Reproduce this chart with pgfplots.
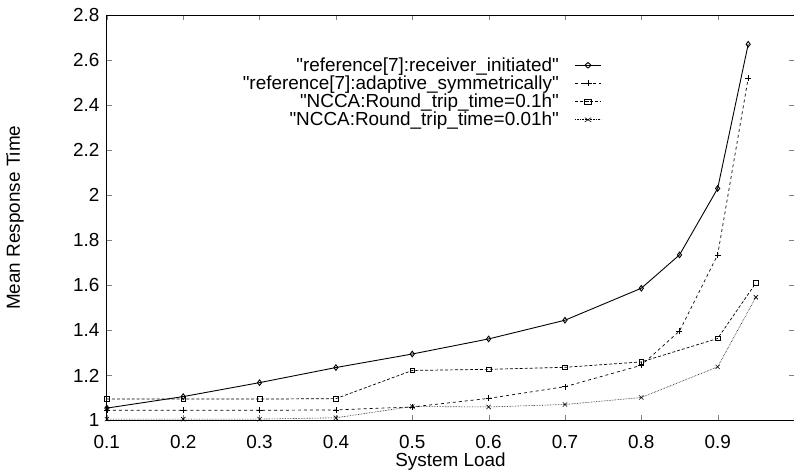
\documentclass[border=0pt]{standalone}
\usepackage{pgfplots}
\pgfplotsset{compat=1.18}
\usepackage{fontspec}
\setmainfont{Liberation Sans}

\begin{document}
\begin{tikzpicture}
\begin{axis}[
    scale only axis,
    width=688bp, height=406bp,
    xmin=0.1, xmax=1.0,
    ymin=1, ymax=2.8,
    xtick={0.1,0.2,...,0.9},
    ytick={1,1.2,...,2.8},
    tick align=inside,
    major tick length=5bp,
    xlabel={System Load},
    ylabel={Mean Response Time},
    font=\fontsize{19}{20}\selectfont,
    tick label style={font=\fontsize{19}{20}\selectfont},
    /pgf/number format/assume math mode=true,
    xticklabel style={anchor=base, yshift=-28bp},
    yticklabel style={xshift=-4bp},
    xlabel style={at={(axis description cs:0.5,0)}, anchor=base, yshift=-46bp},
    ylabel style={at={(axis description cs:0,0.5)}, anchor=center, yshift=92bp},
    axis line style={line width=0.9pt},
    legend style={draw=none, fill=none, at={(0.724,0.905)}, anchor=north east,
        font=\fontsize{19}{20}\selectfont, row sep=-1bp,
        /tikz/every odd column/.append style={column sep=14bp}},
    legend cell align=right,
    legend plot pos=right,
    legend image post style={xscale=1.5},
]
\addplot[black, line width=0.9pt, mark=diamond, mark size=2.8bp, mark options={solid}]
  coordinates {(0.1,1.055) (0.2,1.106) (0.3,1.168) (0.4,1.235) (0.5,1.295) (0.6,1.362)
               (0.7,1.445) (0.8,1.587) (0.85,1.735) (0.9,2.03) (0.94,2.67)};
\addlegendentry{\textquotedbl reference[7]:receiver\_initiated\textquotedbl}
\addplot[black, line width=0.7pt, dashed, mark=+, mark size=3bp, mark options={solid}]
  coordinates {(0.1,1.045) (0.2,1.045) (0.3,1.045) (0.4,1.047) (0.5,1.06) (0.6,1.098)
               (0.7,1.15) (0.8,1.245) (0.85,1.397) (0.9,1.735) (0.94,2.52)};
\addlegendentry{\textquotedbl reference[7]:adaptive\_symmetrically\textquotedbl}
\addplot[black, line width=0.7pt, densely dashed, mark=square, mark size=2.3bp, mark options={solid}]
  coordinates {(0.1,1.095) (0.2,1.095) (0.3,1.095) (0.4,1.097) (0.5,1.222) (0.6,1.227)
               (0.7,1.236) (0.8,1.26) (0.9,1.364) (0.95,1.61)};
\addlegendentry{\textquotedbl NCCA:Round\_trip\_time=0.1h\textquotedbl}
\addplot[black, line width=0.6pt, densely dotted, mark=x, mark size=3bp, mark options={solid}]
  coordinates {(0.1,1.006) (0.2,1.006) (0.3,1.006) (0.4,1.012) (0.5,1.062) (0.6,1.06)
               (0.7,1.071) (0.8,1.102) (0.9,1.238) (0.95,1.547)};
\addlegendentry{\textquotedbl NCCA:Round\_trip\_time=0.01h\textquotedbl}
\end{axis}
\pgfresetboundingbox
\path ([xshift=-107bp,yshift=-50bp]current axis.south west) rectangle ([yshift=15bp]current axis.north east);
\end{tikzpicture}
\end{document}
